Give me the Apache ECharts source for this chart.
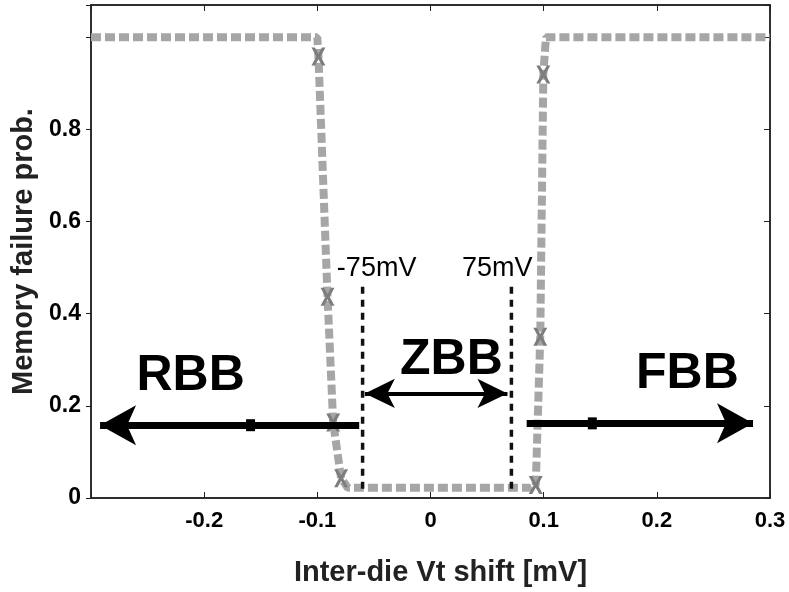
<!DOCTYPE html>
<html>
<head>
<meta charset="utf-8">
<script src="https://cdn.jsdelivr.net/npm/echarts@6/dist/echarts.min.js"></script>
<style>
  html, body { margin: 0; padding: 0; background: #fff; }
  #chart { width: 789px; height: 592px; }
</style>
</head>
<body>
<div id="chart"></div>
<script>
  // curve
  const shiftX = [-0.3, -0.2, -0.1, -0.099, -0.091, -0.086, -0.079, -0.073, 0, 0.088, 0.093, 0.097, 0.0997, 0.102, 0.2, 0.3];
  const failProb = [1, 1, 1, 0.958, 0.437, 0.164, 0.043, 0.022, 0.022, 0.022, 0.028, 0.35, 0.919, 1, 1, 1];
  // x markers on the steep parts
  const crossX = [-0.099, -0.091, -0.086, -0.079, 0.093, 0.097, 0.0997];
  const crossY = [0.958, 0.437, 0.164, 0.043, 0.028, 0.35, 0.919];

  // annotations
  const bounds = [-0.06, 0.0715];          // dashed vertical lines (labelled -75mV / 75mV)
  const boundY = [0.02, 0.46];
  const rbbArrow = [[-0.063, 0.158], [-0.292, 0.158]];
  const fbbArrow = [[0.085, 0.162], [0.285, 0.162]];
  const zbbArrow = [[-0.058, 0.227], [0.068, 0.227]];
  const bigLabels = [['RBB', -0.212, 0.264], ['ZBB', 0.0185, 0.298], ['FBB', 0.227, 0.268]];
  const mvLabels = [['-75mV', -0.0476, 0.497], ['75mV', 0.059, 0.497]];
  const arrowDots = [[-0.159, 0.158], [0.143, 0.162]];

  const font = 'Liberation Sans, Arial, sans-serif';
  const crossPath = 'path://M0,0 L2.5,0 L5,3.5 L7.5,0 L10,0 L6.5,5 L10,10 L7.5,10 L5,6.5 L2.5,10 L0,10 L3.5,5 Z';

  const chart = echarts.init(document.getElementById('chart'));

  const fmt = v => String(Math.round(v * 10) / 10);

  const option = {
    animation: false,
    grid: { left: 91, right: 19, top: 5, bottom: 92, show: true, borderColor: '#222', borderWidth: 1.5 },
    xAxis: [
      {
        type: 'value', min: -0.3, max: 0.3, interval: 0.1,
        name: 'Inter-die Vt shift [mV]', nameLocation: 'middle', nameGap: 60,
        nameTextStyle: { fontFamily: font, fontWeight: 'bold', fontSize: 29, color: '#222', padding: [0, 0, 0, 20] },
        axisLine: { onZero: false, lineStyle: { color: '#222', width: 1.5 } },
        axisTick: { inside: true, length: 6, lineStyle: { color: '#222' } },
        axisLabel: {
          margin: 12, fontFamily: font, fontWeight: 'bold', fontSize: 22, color: '#000',
          formatter: v => (v < -0.29 ? '' : fmt(v))
        },
        splitLine: { show: false }
      },
      {
        type: 'value', position: 'top', min: -0.3, max: 0.3, interval: 0.1,
        axisLine: { onZero: false, lineStyle: { color: '#222', width: 1.5 } },
        axisTick: { inside: true, length: 6, lineStyle: { color: '#222' } },
        axisLabel: { show: false }, splitLine: { show: false }
      }
    ],
    yAxis: [
      {
        type: 'value', min: 0, max: 1.07, interval: 0.2,
        name: 'Memory failure prob.', nameLocation: 'middle', nameGap: 43, nameRotate: 90,
        nameTextStyle: { fontFamily: font, fontWeight: 'bold', fontSize: 29, color: '#222' },
        axisLine: { onZero: false, lineStyle: { color: '#222', width: 1.5 } },
        axisTick: { length: 5, lineStyle: { color: '#222' } },
        axisLabel: {
          margin: 10, fontFamily: font, fontWeight: 'bold', fontSize: 23, color: '#000',
          formatter: v => (v > 0.9 ? '' : fmt(v))
        },
        splitLine: { show: false }
      },
      {
        type: 'value', position: 'right', min: 0, max: 1.07, interval: 0.2,
        axisLine: { onZero: false, lineStyle: { color: '#222', width: 1.5 } },
        axisTick: { inside: true, length: 6, lineStyle: { color: '#222' } },
        axisLabel: { show: false }, splitLine: { show: false }
      }
    ],
    series: [
      {
        name: 'failure', type: 'line', showSymbol: false, z: 3,
        data: shiftX.map((x, i) => [x, failProb[i]]),
        lineStyle: { color: '#a6a6a6', width: 8, type: [10, 4] }
      },
      {
        name: 'cross', type: 'scatter', symbol: crossPath, symbolSize: [14, 18], z: 4,
        data: crossX.map((x, i) => [x, crossY[i]]),
        itemStyle: { color: '#7d7d7d', opacity: 1 }
      },
      {
        name: 'bound', type: 'line', showSymbol: false, z: 5,
        data: [[bounds[0], boundY[0]], [bounds[0], boundY[1]], null, [bounds[1], boundY[0]], [bounds[1], boundY[1]]],
        connectNulls: false,
        lineStyle: { color: '#111', width: 3.5, type: [7, 6] },
        markLine: {
          silent: true, label: { show: false }, animation: false,
          data: [
            [{ coord: rbbArrow[0], symbol: 'none' }, { coord: rbbArrow[1], symbol: 'arrow', symbolSize: [30, 36] }],
            [{ coord: fbbArrow[0], symbol: 'none' }, { coord: fbbArrow[1], symbol: 'arrow', symbolSize: [30, 36] }],
            [{ coord: zbbArrow[0], symbol: 'arrow', symbolSize: [22, 30], lineStyle: { width: 4 } },
             { coord: zbbArrow[1], symbol: 'arrow', symbolSize: [22, 30] }]
          ],
          lineStyle: { color: '#000', width: 7, type: 'solid' }
        }
      },
      {
        name: 'dots', type: 'scatter', symbol: 'rect', symbolSize: [9, 12], z: 6,
        data: arrowDots, itemStyle: { color: '#000', opacity: 1 }
      },
      {
        name: 'big labels', type: 'scatter', symbolSize: 0, z: 7,
        data: bigLabels.map(d => ({ name: d[0], value: [d[1], d[2]] })),
        itemStyle: { opacity: 1 },
        label: {
          show: true, position: 'inside', formatter: '{b}',
          fontFamily: font, fontWeight: 'bold', fontSize: 50, color: '#000'
        }
      },
      {
        name: 'mv labels', type: 'scatter', symbolSize: 0, z: 7,
        data: mvLabels.map(d => ({ name: d[0], value: [d[1], d[2]] })),
        itemStyle: { opacity: 1 },
        label: {
          show: true, position: 'inside', formatter: '{b}',
          fontFamily: font, fontSize: 27, color: '#000'
        }
      }
    ]
  };

  chart.setOption(option);
</script>
</body>
</html>
